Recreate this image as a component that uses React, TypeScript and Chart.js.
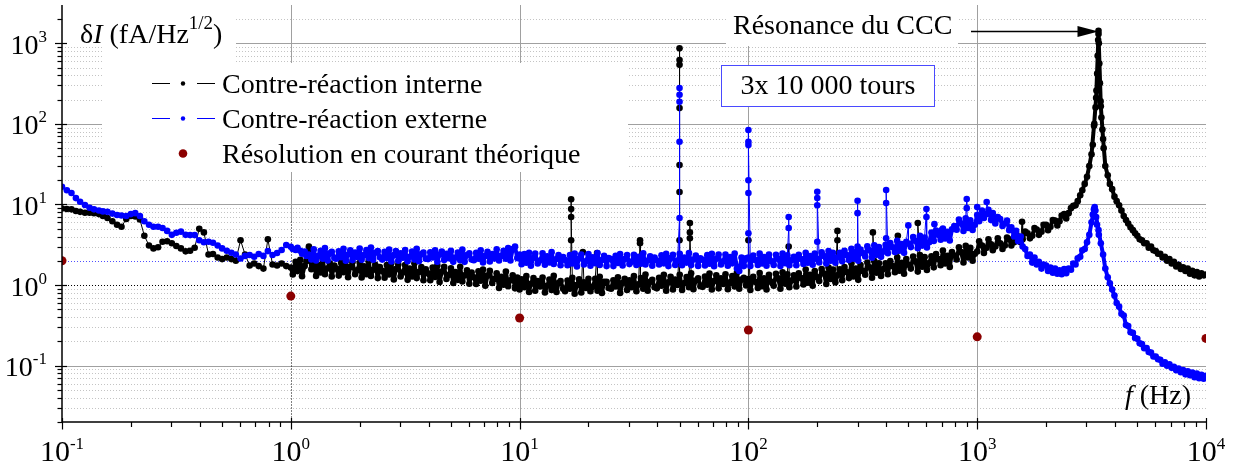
import React, { useEffect, useRef } from "react";
import { Chart, registerables } from "chart.js";

Chart.register(...registerables);

// ---- frequency grids (Hz): a coarse one for 0.1–1 Hz, a fine one reused on the upper decades ----
const FREQ_LOW_DECADE = 0.1;
const FREQ_LOW_MANTISSAS = [1.0, 1.05, 1.1, 1.15, 1.2, 1.26, 1.32, 1.38, 1.45, 1.51, 1.58, 1.66, 1.74, 1.82, 1.91, 2.0, 2.09, 2.19, 2.29, 2.4, 2.51, 2.63, 2.75, 2.88, 3.02, 3.16, 3.31, 3.47, 3.63, 3.8, 3.98, 4.17, 4.37, 4.57, 4.79, 5.01, 5.25, 5.5, 5.75, 6.03, 6.31, 6.61, 6.92, 7.24, 7.59, 7.94, 8.32, 8.71, 9.12, 9.55];
const FREQ_DECADES = [1, 10, 100, 1000];
const FREQ_MANTISSAS = [1.0, 1.02, 1.05, 1.07, 1.1, 1.12, 1.15, 1.17, 1.2, 1.23, 1.26, 1.29, 1.32, 1.35, 1.38, 1.41, 1.45, 1.48, 1.51, 1.55, 1.58, 1.62, 1.66, 1.7, 1.74, 1.78, 1.82, 1.86, 1.91, 1.95, 2.0, 2.04, 2.09, 2.14, 2.19, 2.24, 2.29, 2.34, 2.4, 2.45, 2.51, 2.57, 2.63, 2.69, 2.75, 2.82, 2.88, 2.95, 3.02, 3.09, 3.16, 3.24, 3.31, 3.39, 3.47, 3.55, 3.63, 3.72, 3.8, 3.89, 3.98, 4.07, 4.17, 4.27, 4.37, 4.47, 4.57, 4.68, 4.79, 4.9, 5.01, 5.13, 5.25, 5.37, 5.5, 5.62, 5.75, 5.89, 6.03, 6.17, 6.31, 6.46, 6.61, 6.76, 6.92, 7.08, 7.24, 7.41, 7.59, 7.76, 7.94, 8.13, 8.32, 8.51, 8.71, 8.91, 9.12, 9.33, 9.55, 9.77];
const FREQ_END = 10000;

// ---- Contre-réaction interne (black), fA/Hz^1/2 ----
const INTERNE_LOW = [8.9, 8.8, 8.7, 8.3, 8.1, 7.9, 7.9, 7.8, 7.6, 7.2, 6.8, 6.2, 5.6, 5.3, 6.6, 7.2, 7.1, 6.5, 4.1, 3.1, 2.85, 2.95, 3.45, 3.5, 3.3, 3.05, 2.85, 2.62, 2.66, 2.9, 5.0, 4.5, 2.4, 2.43, 2.2, 2.1, 2.2, 2.1, 2.0, 3.6, 2.4, 1.75, 1.85, 1.72, 1.6, 3.7, 1.8, 1.75, 1.85, 1.72];
const INTERNE_D1 = [1.65, 1.35, 1.95, 1.49, 2.06, 1.29, 1.73, 1.98, 3.0, 1.57, 1.98, 1.3, 1.78, 1.43, 2.07, 1.36, 1.62, 1.86, 1.28, 1.75, 1.6, 1.31, 1.89, 1.44, 2.0, 1.25, 1.68, 1.92, 1.36, 1.52, 1.89, 1.24, 1.71, 1.36, 1.98, 1.3, 1.55, 1.78, 1.22, 1.67, 1.5, 1.23, 1.77, 1.35, 1.88, 1.17, 1.58, 1.8, 1.28, 1.43, 1.77, 1.16, 1.6, 1.28, 1.86, 1.22, 1.45, 1.67, 1.15, 1.57, 1.4, 1.15, 1.65, 1.26, 1.75, 1.09, 1.47, 1.68, 1.19, 1.33, 1.61, 1.06, 1.45, 1.16, 1.69, 1.11, 1.32, 1.52, 1.04, 1.43, 1.25, 1.03, 1.48, 1.13, 1.56, 0.98, 1.31, 1.5, 1.06, 1.19, 1.4, 0.92, 1.27, 1.01, 1.47, 0.97, 1.15, 1.32, 0.91, 1.24];
const INTERNE_D2 = [0.88, 1.18, 0.94, 1.29, 0.82, 1.04, 1.22, 0.85, 1.12, 0.96, 1.24, 0.81, 0.98, 1.17, 0.87, 1.3, 0.82, 1.06, 1.12, 0.9, 0.84, 1.14, 0.9, 1.23, 0.78, 1.0, 1.18, 0.81, 1.08, 0.92, 1.2, 0.84, 0.95, 1.2, 0.85, 1.27, 0.8, 1.1, 1.1, 0.92, 0.9, 1.15, 0.96, 1.25, 0.8, 1.07, 1.2, 0.87, 1.15, 0.94, 1.29, 0.84, 1.02, 1.22, 0.9, 1.35, 0.85, 1.1, 1.16, 0.94, 0.91, 1.23, 0.98, 1.34, 0.85, 1.08, 1.27, 0.88, 1.17, 1.0, 1.34, 0.87, 1.06, 1.26, 0.94, 1.4, 0.89, 1.14, 1.21, 0.97, 0.95, 1.28, 1.01, 1.39, 0.88, 1.12, 1.32, 0.91, 1.21, 1.03, 1.36, 0.89, 1.08, 1.29, 0.96, 1.43, 0.9, 1.17, 1.23, 0.99];
const INTERNE_D3 = [1.19, 0.87, 1.27, 1.1, 0.92, 1.41, 0.97, 1.21, 0.88, 1.34, 1.09, 0.98, 1.38, 1.21, 0.9, 1.44, 1.04, 1.36, 0.94, 1.15, 1.32, 0.96, 1.4, 1.22, 1.02, 1.56, 1.07, 1.34, 0.98, 1.49, 1.25, 1.12, 1.58, 1.39, 1.03, 1.65, 1.19, 1.56, 1.08, 1.32, 1.57, 1.15, 1.67, 1.45, 1.22, 1.86, 1.28, 1.6, 1.16, 1.77, 1.5, 1.34, 1.9, 1.66, 1.23, 1.98, 1.42, 1.86, 1.3, 1.58, 1.86, 1.36, 1.98, 1.72, 1.44, 2.2, 1.51, 1.89, 1.38, 2.1, 1.79, 1.6, 2.26, 1.97, 1.47, 2.35, 1.69, 2.22, 1.54, 1.88, 2.27, 1.66, 2.42, 2.1, 1.76, 2.69, 1.85, 2.31, 1.68, 2.56, 2.33, 2.08, 2.94, 2.57, 1.91, 3.06, 2.2, 2.89, 2.01, 2.45];
const INTERNE_D4 = [2.6, 3.5, 3.1, 2.5, 2.9, 3.7, 3.2, 2.7, 3.0, 3.8, 3.3, 2.8, 3.1, 3.9, 3.7, 3.1, 3.4, 4.3, 4.0, 3.4, 3.7, 4.6, 4.4, 3.8, 4.1, 5.1, 4.9, 4.2, 4.6, 5.6, 5.6, 4.8, 5.3, 6.4, 6.3, 5.5, 6.2, 7.3, 7.6, 6.7, 7.8, 9.0, 9.6, 9.8, 11, 13, 15, 18, 22, 30, 42, 95, 210, 1300, 165, 65, 30, 23, 18, 15.5, 12.5, 11, 9.8, 8.4, 7.2, 6.4, 5.8, 5.2, 4.8, 4.4, 4.1, 3.7, 3.6, 3.3, 3.3, 2.9, 3.0, 2.7, 2.65, 2.45, 2.45, 2.2, 2.25, 2.0, 2.1, 1.85, 1.95, 1.7, 1.78, 1.58, 1.66, 1.5, 1.6, 1.38, 1.5, 1.32, 1.45, 1.28, 1.4, 1.32];
const INTERNE_END = 1.35;
const INTERNE_SPIKE_FREQ = [16.8, 18.9, 21.8, 33.6, 50, 55.5, 100, 150, 245, 350, 450, 550, 1570];
const INTERNE_SPIKE_VALUES = [[3.6, 8.8, 11.6, 7.0], [2.56], [2.5], [3.3, 3.6], [3.6, 14.3, 30.8, 157, 540, 865, 620], [3.8, 5.9, 4.5], [3.6], [3.0], [4.7, 3.6], [4.5], [4.1], [5.9], [6.1]];
const INTERNE_PEAK_FREQ = [3200, 3250, 3290, 3320, 3345, 3362, 3378, 3390, 3402, 3418, 3438, 3462, 3490, 3525, 3570];
const INTERNE_PEAK_VALUES = [55, 100, 160, 260, 420, 700, 1100, 1430, 1000, 560, 320, 190, 120, 85, 50];

// ---- Contre-réaction externe (blue) ----
const EXTERNE_LOW = [16.6, 15.0, 13.9, 12.0, 10.8, 9.85, 9.1, 8.7, 8.4, 8.2, 8.1, 7.7, 7.4, 7.3, 7.2, 7.6, 7.8, 7.2, 6.2, 5.6, 5.3, 5.3, 5.1, 4.7, 4.2, 4.45, 4.6, 4.2, 4.17, 4.17, 3.6, 3.4, 3.45, 3.35, 3.1, 2.85, 2.67, 2.52, 2.4, 2.14, 2.3, 2.36, 2.25, 2.43, 2.3, 2.64, 2.36, 2.5, 2.72, 3.14];
const EXTERNE_D1 = [2.98, 2.8, 2.72, 2.9, 2.67, 2.45, 2.6, 2.3, 2.4, 2.08, 2.77, 2.02, 2.3, 2.66, 2.12, 2.87, 2.02, 2.47, 2.59, 2.16, 2.12, 2.63, 2.21, 2.82, 2.0, 2.4, 2.7, 2.04, 2.54, 2.23, 2.83, 2.06, 2.35, 2.71, 2.16, 2.93, 2.06, 2.52, 2.64, 2.21, 2.07, 2.58, 2.16, 2.76, 1.96, 2.35, 2.65, 2.0, 2.48, 2.19, 2.71, 1.98, 2.25, 2.6, 2.07, 2.81, 1.98, 2.42, 2.53, 2.12, 2.1, 2.55, 2.2, 2.7, 1.95, 2.4, 2.6, 2.05, 2.45, 2.15, 2.66, 1.94, 2.2, 2.54, 2.03, 2.75, 1.94, 2.36, 2.48, 2.07, 2.03, 2.52, 2.12, 2.7, 1.91, 2.3, 2.59, 1.96, 2.43, 2.14, 2.77, 2.02, 2.3, 2.66, 2.12, 2.87, 2.02, 2.8, 3.0, 2.16];
const EXTERNE_D2 = [2.4, 1.81, 2.42, 1.89, 2.52, 1.74, 2.18, 2.46, 1.85, 2.02, 2.48, 1.79, 2.27, 1.91, 2.56, 1.83, 2.1, 2.35, 1.76, 2.23, 2.05, 1.76, 2.36, 1.85, 2.46, 1.7, 2.13, 2.4, 1.8, 1.97, 2.42, 1.74, 2.21, 1.87, 2.5, 1.78, 2.05, 2.3, 1.72, 2.17, 2.1, 1.72, 2.3, 1.88, 2.42, 1.75, 2.1, 2.36, 1.82, 1.95, 2.38, 1.78, 2.25, 1.84, 2.48, 1.8, 2.02, 2.28, 1.74, 2.2, 2.02, 1.8, 2.34, 1.86, 2.44, 1.72, 2.16, 2.38, 1.78, 2.0, 2.45, 1.76, 2.2, 1.9, 2.5, 1.77, 2.08, 2.32, 1.73, 2.15, 2.06, 1.75, 2.35, 1.84, 2.45, 1.71, 2.12, 2.4, 1.8, 1.96, 2.4, 1.74, 2.22, 1.86, 2.46, 1.6, 1.5, 2.2, 1.72, 2.15];
const EXTERNE_D3 = [2.19, 1.72, 2.32, 2.05, 1.78, 2.46, 1.85, 2.23, 1.74, 2.4, 1.97, 1.78, 2.38, 2.13, 1.72, 2.46, 1.87, 2.34, 1.76, 2.05, 2.25, 1.76, 2.37, 2.1, 1.83, 2.52, 1.89, 2.29, 1.79, 2.46, 2.11, 1.91, 2.55, 2.29, 1.85, 2.64, 2.0, 2.51, 1.89, 2.2, 2.51, 1.97, 2.66, 2.35, 2.04, 2.82, 2.12, 2.56, 2.0, 2.75, 2.5, 2.26, 3.02, 2.7, 2.18, 3.12, 2.37, 2.96, 2.24, 2.6, 3.16, 2.48, 3.33, 2.95, 2.57, 3.54, 2.66, 3.22, 2.51, 3.45, 3.26, 2.96, 3.94, 3.54, 2.86, 4.08, 3.09, 3.88, 2.92, 3.4, 4.49, 3.53, 4.75, 4.2, 3.65, 5.04, 3.78, 4.58, 3.57, 4.91, 5.38, 4.87, 6.5, 5.82, 4.7, 6.72, 5.1, 6.38, 4.82, 5.6];
const EXTERNE_D4 = [7.4, 6.2, 8.4, 6.8, 7.6, 8.6, 6.4, 7.8, 5.8, 7.0, 6.6, 5.4, 5.8, 6.3, 4.8, 5.2, 4.0, 4.7, 3.5, 4.0, 3.0, 2.8, 2.3, 2.4, 1.9, 2.2, 1.8, 1.95, 1.6, 1.8, 1.75, 1.5, 1.65, 1.42, 1.6, 1.38, 1.52, 1.36, 1.58, 1.4, 1.6, 1.55, 1.85, 1.8, 2.15, 2.25, 2.7, 2.8, 3.4, 4.2, 6.0, 8.6, 7.0, 4.8, 3.3, 2.4, 1.6, 1.25, 1.05, 0.88, 0.74, 0.6, 0.54, 0.44, 0.42, 0.32, 0.31, 0.26, 0.255, 0.22, 0.215, 0.19, 0.185, 0.165, 0.165, 0.148, 0.145, 0.13, 0.13, 0.12, 0.118, 0.106, 0.11, 0.1, 0.104, 0.094, 0.097, 0.088, 0.092, 0.083, 0.088, 0.078, 0.085, 0.076, 0.082, 0.072, 0.08, 0.07, 0.077, 0.069];
const EXTERNE_END = 0.075;
const EXTERNE_SPIKE_FREQ = [50, 100, 150, 200, 300, 400, 500, 600, 650, 700, 900, 1000, 1100];
const EXTERNE_SPIKE_VALUES = [[6.8, 60, 188, 278, 230], [4.4, 13.9, 20, 54.5, 84, 60], [5.1, 7.0], [3.45, 9.8, 14.4, 12], [3.0, 7.8, 11.1], [3.8, 10.4, 15.1], [5.5], [8.8, 7.0], [5.7], [4.8], [11.7, 9.0], [9.3], [10.7]];
const EXTERNE_PEAK_FREQ = [3200, 3240, 3262, 3285, 3340, 3400];
const EXTERNE_PEAK_VALUES = [7.5, 8.8, 9.3, 8.4, 5.6, 4.2];

// ---- Résolution en courant théorique (dark red) ----
const THEORY_FREQ = [0.1, 1, 10, 100, 1000, 10000];
const THEORY_VALUES = [2.0, 0.73, 0.39, 0.277, 0.228, 0.218];

// ---- axes / texts ----
const X_MIN = 0.1, X_MAX = 10000, Y_MIN = 0.02, Y_MAX = 2985;
const X_TICK_EXP = [-1, 0, 1, 2, 3, 4];
const Y_TICK_EXP = [-1, 0, 1, 2, 3];
const LEVEL_UNIT = 1;
const LEVEL_EXTERNE = 2;
const DROP_LINE_FREQ = 1;
const DROP_LINE_TOP = 6.2;
const LEGEND_LABELS = ["Contre-réaction interne", "Contre-réaction externe", "Résolution en courant théorique"];
const RESONANCE_LABEL = "Résonance du CCC";
const TURNS_LABEL = "3x 10 000 tours";

const FONT = '"Liberation Serif", "Times New Roman", Times, serif';
const BLUE = "#0000ff";
const RED = "#8b0000";
const POINT_R = 3.3;
const BAND_W = 4;

type Pt = { x: number; y: number };

function buildSeries(low: number[], decades: number[][], end: number, spikeF: number[], spikeV: number[][], peakF: number[], peakV: number[]): Pt[] {
  const pts: { x: number; y: number; i: number }[] = [];
  let i = 0;
  FREQ_LOW_MANTISSAS.forEach((m, k) => pts.push({ x: FREQ_LOW_DECADE * m, y: low[k], i: i++ }));
  FREQ_DECADES.forEach((d, di) => FREQ_MANTISSAS.forEach((m, k) => pts.push({ x: d * m, y: decades[di][k], i: i++ })));
  pts.push({ x: FREQ_END, y: end, i: i++ });
  spikeF.forEach((f, si) => spikeV[si].forEach((v) => pts.push({ x: f, y: v, i: i++ })));
  peakF.forEach((f, pi) => pts.push({ x: f, y: peakV[pi], i: i++ }));
  pts.sort((a, b) => a.x - b.x || a.i - b.i);
  return pts.map(({ x, y }) => ({ x, y }));
}

// the fine-grid part only (dense noise band, without the isolated spikes)
function buildBand(decades: number[][], end: number): Pt[] {
  const pts: Pt[] = [];
  FREQ_DECADES.forEach((d, di) => FREQ_MANTISSAS.forEach((m, k) => pts.push({ x: d * m, y: decades[di][k] })));
  pts.push({ x: FREQ_END, y: end });
  return pts;
}

function hline(ctx: CanvasRenderingContext2D, x1: number, x2: number, y: number) {
  ctx.beginPath();
  ctx.moveTo(x1, y);
  ctx.lineTo(x2, y);
  ctx.stroke();
}
function vline(ctx: CanvasRenderingContext2D, x: number, y1: number, y2: number) {
  ctx.beginPath();
  ctx.moveTo(x, y1);
  ctx.lineTo(x, y2);
  ctx.stroke();
}

function drawPow(ctx: CanvasRenderingContext2D, exp: number, ax: number, baseline: number, align: "center" | "right", size: number) {
  const big = `${size}px ${FONT}`;
  const small = `17px ${FONT}`;
  ctx.font = big;
  const wb = ctx.measureText("10").width;
  ctx.font = small;
  const sup = String(exp);
  const ws = ctx.measureText(sup).width;
  const left = align === "center" ? ax - (wb + ws) / 2 : ax - (wb + ws);
  ctx.textAlign = "left";
  ctx.textBaseline = "alphabetic";
  ctx.font = big;
  ctx.fillText("10", left, baseline);
  ctx.font = small;
  ctx.fillText(sup, left + wb, baseline - 12);
}

const decorPlugin = {
  id: "decor",
  beforeDatasetsDraw(chart: any) {
    const { ctx, chartArea: a } = chart;
    const xs = chart.scales.x;
    const ys = chart.scales.y;
    const Y = (v: number) => Math.round(ys.getPixelForValue(v)) + 0.5;
    const X = (v: number) => Math.round(xs.getPixelForValue(v)) + 0.5;
    ctx.save();
    ctx.lineWidth = 1;
    ctx.strokeStyle = "#c4c4c4";
    ctx.setLineDash([1, 2]);
    for (let e = -2; e <= 3; e++) {
      for (let m = 2; m <= 9; m++) {
        const v = m * Math.pow(10, e);
        if (v > Y_MIN && v < Y_MAX) hline(ctx, a.left, a.right, Y(v));
      }
    }
    ctx.setLineDash([]);
    ctx.strokeStyle = "#a0a0a0";
    Y_TICK_EXP.filter((e) => e !== 0).forEach((e) => hline(ctx, a.left, a.right, Y(Math.pow(10, e))));
    X_TICK_EXP.filter((e) => e > 0 && e < 4).forEach((e) => vline(ctx, X(Math.pow(10, e)), a.top, a.bottom));
    vline(ctx, X(DROP_LINE_FREQ), a.top, Y(DROP_LINE_TOP));
    ctx.setLineDash([1, 2]);
    ctx.strokeStyle = "#000";
    hline(ctx, a.left, a.right, Y(LEVEL_UNIT));
    vline(ctx, X(DROP_LINE_FREQ), Y(DROP_LINE_TOP), a.bottom);
    ctx.strokeStyle = "#5050ff";
    hline(ctx, a.left, a.right, Y(LEVEL_EXTERNE));
    ctx.setLineDash([]);
    ctx.fillStyle = "#fff";
    ctx.fillRect(63, 0, 173, 46);
    ctx.fillRect(102, 46, 134, 17);
    ctx.fillRect(102, 63, 526, 109);
    ctx.fillRect(726, 2, 232, 44);
    ctx.fillRect(721, 65, 214, 42);
    ctx.restore();
  },
  afterDatasetsDraw(chart: any) {
    const { ctx, chartArea: a } = chart;
    const xs = chart.scales.x;
    const ys = chart.scales.y;
    ctx.save();
    ctx.fillStyle = "#000";
    ctx.strokeStyle = "#000";
    ctx.lineWidth = 1.5;
    ctx.beginPath();
    ctx.moveTo(a.left, a.top);
    ctx.lineTo(a.left, a.bottom);
    ctx.lineTo(a.right, a.bottom);
    ctx.stroke();
    ctx.lineWidth = 1.2;
    for (let e = -2; e <= 3; e++) {
      for (let m = 1; m <= 9; m++) {
        const v = m * Math.pow(10, e);
        if (v < Y_MIN || v > Y_MAX) continue;
        const py = Math.round(ys.getPixelForValue(v)) + 0.5;
        if (m === 1) hline(ctx, a.left - 7, a.left + 5, py);
        else hline(ctx, a.left - 4.5, a.left, py);
      }
    }
    for (let e = -1; e <= 4; e++) {
      for (let m = 1; m <= 9; m++) {
        const v = m * Math.pow(10, e);
        if (v < X_MIN || v > X_MAX) continue;
        const px = Math.round(xs.getPixelForValue(v)) + 0.5;
        if (m === 1) vline(ctx, px, a.bottom - 4, a.bottom + 7.5);
        else vline(ctx, px, a.bottom, a.bottom + 5);
      }
    }
    X_TICK_EXP.forEach((e) => drawPow(ctx, e, xs.getPixelForValue(Math.pow(10, e)), 461, "center", 30));
    Y_TICK_EXP.forEach((e) => drawPow(ctx, e, 47, ys.getPixelForValue(Math.pow(10, e)) + 10.5, "right", 28));

    // y title: δI (fA/Hz^1/2)
    ctx.textAlign = "left";
    ctx.textBaseline = "alphabetic";
    let cx = 80;
    const tb = 43;
    ctx.font = `28px ${FONT}`;
    ctx.fillText("δ", cx, tb);
    cx += ctx.measureText("δ").width;
    ctx.font = `italic 28px ${FONT}`;
    ctx.fillText("I", cx, tb);
    cx += ctx.measureText("I").width;
    ctx.font = `28px ${FONT}`;
    ctx.fillText(" (fA/Hz", cx, tb);
    cx += ctx.measureText(" (fA/Hz").width;
    ctx.font = `19px ${FONT}`;
    ctx.fillText("1/2", cx, tb - 14);
    cx += ctx.measureText("1/2").width;
    ctx.font = `28px ${FONT}`;
    ctx.fillText(")", cx, tb);

    // x title: f (Hz)
    ctx.font = `italic 28px ${FONT}`;
    ctx.fillText("f", 1125, 404);
    const fx = 1125 + ctx.measureText("f").width;
    ctx.font = `28px ${FONT}`;
    ctx.fillText(" (Hz)", fx, 404);

    // legend
    LEGEND_LABELS.forEach((label, i) => {
      const base = 93 + 35 * i;
      const sy = Math.round(base - 10) + 0.5;
      if (i < 2) {
        const col = i === 0 ? "#000" : BLUE;
        ctx.strokeStyle = col;
        ctx.fillStyle = col;
        ctx.lineWidth = 1;
        hline(ctx, 152, 170, sy);
        hline(ctx, 197, 215, sy);
        ctx.beginPath();
        ctx.arc(183, sy, 2.2, 0, Math.PI * 2);
        ctx.fill();
      } else {
        ctx.fillStyle = RED;
        ctx.beginPath();
        ctx.arc(183, sy, 4.3, 0, Math.PI * 2);
        ctx.fill();
      }
      ctx.fillStyle = "#000";
      ctx.font = `28px ${FONT}`;
      ctx.fillText(label, 222, base);
    });

    // resonance label + arrow to the black peak
    ctx.fillStyle = "#000";
    ctx.font = `28px ${FONT}`;
    ctx.fillText(RESONANCE_LABEL, 733, 34);
    let pk = 0;
    INTERNE_PEAK_VALUES.forEach((v, i) => {
      if (v > INTERNE_PEAK_VALUES[pk]) pk = i;
    });
    const tipX = xs.getPixelForValue(INTERNE_PEAK_FREQ[pk]);
    const tipY = Math.round(ys.getPixelForValue(INTERNE_PEAK_VALUES[pk])) + 0.5;
    ctx.strokeStyle = "#000";
    ctx.lineWidth = 1.3;
    hline(ctx, 971, tipX - 18, tipY);
    ctx.beginPath();
    ctx.moveTo(tipX, tipY);
    ctx.lineTo(tipX - 21, tipY - 5.5);
    ctx.lineTo(tipX - 21, tipY + 5.5);
    ctx.closePath();
    ctx.fill();

    // "3x 10 000 tours" box
    ctx.strokeStyle = "#4a4aff";
    ctx.lineWidth = 1;
    ctx.strokeRect(721.5, 65.5, 213, 41);
    ctx.textAlign = "center";
    ctx.fillText(TURNS_LABEL, 828, 94);
    ctx.restore();
  },
};

export default function App() {
  const ref = useRef<HTMLCanvasElement | null>(null);
  useEffect(() => {
    if (!ref.current) return;
    const interneD = [INTERNE_D1, INTERNE_D2, INTERNE_D3, INTERNE_D4];
    const externeD = [EXTERNE_D1, EXTERNE_D2, EXTERNE_D3, EXTERNE_D4];
    const interne = buildSeries(INTERNE_LOW, interneD, INTERNE_END, INTERNE_SPIKE_FREQ, INTERNE_SPIKE_VALUES, INTERNE_PEAK_FREQ, INTERNE_PEAK_VALUES);
    const externe = buildSeries(EXTERNE_LOW, externeD, EXTERNE_END, EXTERNE_SPIKE_FREQ, EXTERNE_SPIKE_VALUES, EXTERNE_PEAK_FREQ, EXTERNE_PEAK_VALUES);
    const theory = THEORY_FREQ.map((f, i) => ({ x: f, y: THEORY_VALUES[i] }));
    const band = (data: Pt[], color: string) =>
      ({ data, showLine: true, borderColor: color, borderWidth: BAND_W, borderJoinStyle: "round", pointRadius: 0, clip: 0 } as any);
    const chart = new Chart(ref.current, {
      type: "scatter",
      data: {
        datasets: [
          { label: LEGEND_LABELS[2], data: theory, showLine: false, pointRadius: 4.5, pointBackgroundColor: RED, pointBorderWidth: 0, clip: 0 } as any,
          { label: LEGEND_LABELS[1], data: externe, showLine: true, borderColor: BLUE, borderWidth: 1, pointRadius: POINT_R, pointBackgroundColor: BLUE, pointBorderWidth: 0, clip: 0 } as any,
          band(buildBand(externeD, EXTERNE_END), BLUE),
          { label: LEGEND_LABELS[0], data: interne, showLine: true, borderColor: "#000", borderWidth: 1, pointRadius: POINT_R, pointBackgroundColor: "#000", pointBorderWidth: 0, clip: 0 } as any,
          band(buildBand(interneD, INTERNE_END), "#000"),
        ],
      },
      options: {
        responsive: false,
        animation: false,
        devicePixelRatio: 1,
        events: [],
        layout: { padding: { left: 62, right: 29, top: 5, bottom: 45 } },
        plugins: { legend: { display: false }, tooltip: { enabled: false } },
        scales: {
          x: { type: "logarithmic", min: X_MIN, max: X_MAX, display: false },
          y: { type: "logarithmic", min: Y_MIN, max: Y_MAX, display: false },
        },
      },
      plugins: [decorPlugin],
    } as any);
    return () => chart.destroy();
  }, []);
  return (
    <div style={{ position: "absolute", left: 0, top: 0, width: 1235, height: 467, background: "#fff" }}>
      <canvas ref={ref} width={1235} height={467} style={{ display: "block", width: 1235, height: 467 }} />
    </div>
  );
}
